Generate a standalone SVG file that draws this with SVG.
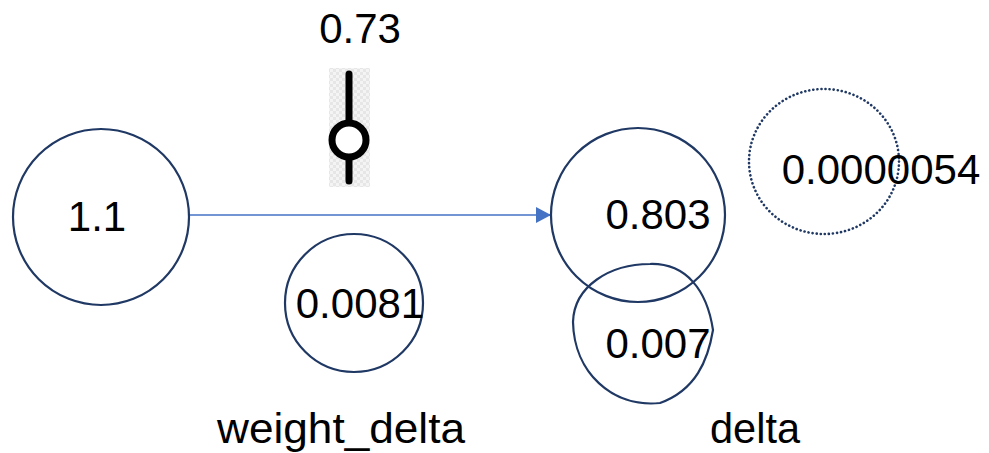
<svg xmlns="http://www.w3.org/2000/svg" width="989" height="453" viewBox="0 0 989 453">
  <style>
    .node { fill: none; stroke: #1f3864; stroke-width: 2.2; }
    .dotted { fill: none; stroke: #1f3864; stroke-width: 2.6; stroke-dasharray: 0.1 4; stroke-linecap: round; }
    .label { font-family: "Liberation Sans", Arial, sans-serif; font-size: 42px; fill: #000; text-anchor: middle; }
    .edge { stroke: #4472c4; stroke-width: 1.5; fill: none; }
  </style>
  <defs>
    <marker id="arrow" markerWidth="15" markerHeight="16" refX="15" refY="8" orient="auto" markerUnits="userSpaceOnUse">
      <path d="M0,0 L15,8 L0,16 Z" fill="#4472c4"/>
    </marker>
    <pattern id="checker" width="6" height="6" patternUnits="userSpaceOnUse">
      <rect width="6" height="6" fill="#f4f4f4"/>
      <rect width="3" height="3" fill="#e6e6e6"/>
      <rect x="3" y="3" width="3" height="3" fill="#e6e6e6"/>
    </pattern>
  </defs>

  <g id="connectors">
    <line class="edge" x1="189" y1="215" x2="551" y2="215" marker-end="url(#arrow)"/>
  </g>

  <g id="input-node">
    <circle class="node" cx="101" cy="217" r="88"/>
    <text class="label" x="97" y="231">1.1</text>
  </g>

  <g id="weight-slider">
    <rect x="329" y="68" width="41" height="119" fill="url(#checker)"/>
    <line x1="349" y1="74" x2="349" y2="181" stroke="#000" stroke-width="7" stroke-linecap="round"/>
    <circle cx="349" cy="140" r="17" fill="#fff" stroke="#000" stroke-width="7"/>
    <text class="label" x="360" y="43">0.73</text>
  </g>

  <g id="weight-delta-node">
    <circle class="node" cx="354" cy="303" r="69"/>
    <text class="label" x="360" y="318">0.0081</text>
    <text class="label" x="341" y="443" textLength="248" lengthAdjust="spacingAndGlyphs">weight_delta</text>
  </g>

  <g id="output-node">
    <circle class="node" cx="638" cy="215" r="87"/>
    <text class="label" x="658" y="229">0.803</text>
  </g>

  <g id="delta-node">
    <path class="node" d="M650,264 C686,263 707,290 713,330 C708,360 696,390 660,403 C612,408 574,372 573,322 C574,286 610,264 650,264 Z"/>
    <text class="label" x="658" y="358">0.007</text>
    <text class="label" x="755" y="443" textLength="90" lengthAdjust="spacingAndGlyphs">delta</text>
  </g>

  <g id="error-node">
    <ellipse class="dotted" cx="824" cy="161.5" rx="75" ry="72.5"/>
    <text class="label" x="881" y="184">0.0000054</text>
  </g>
</svg>
